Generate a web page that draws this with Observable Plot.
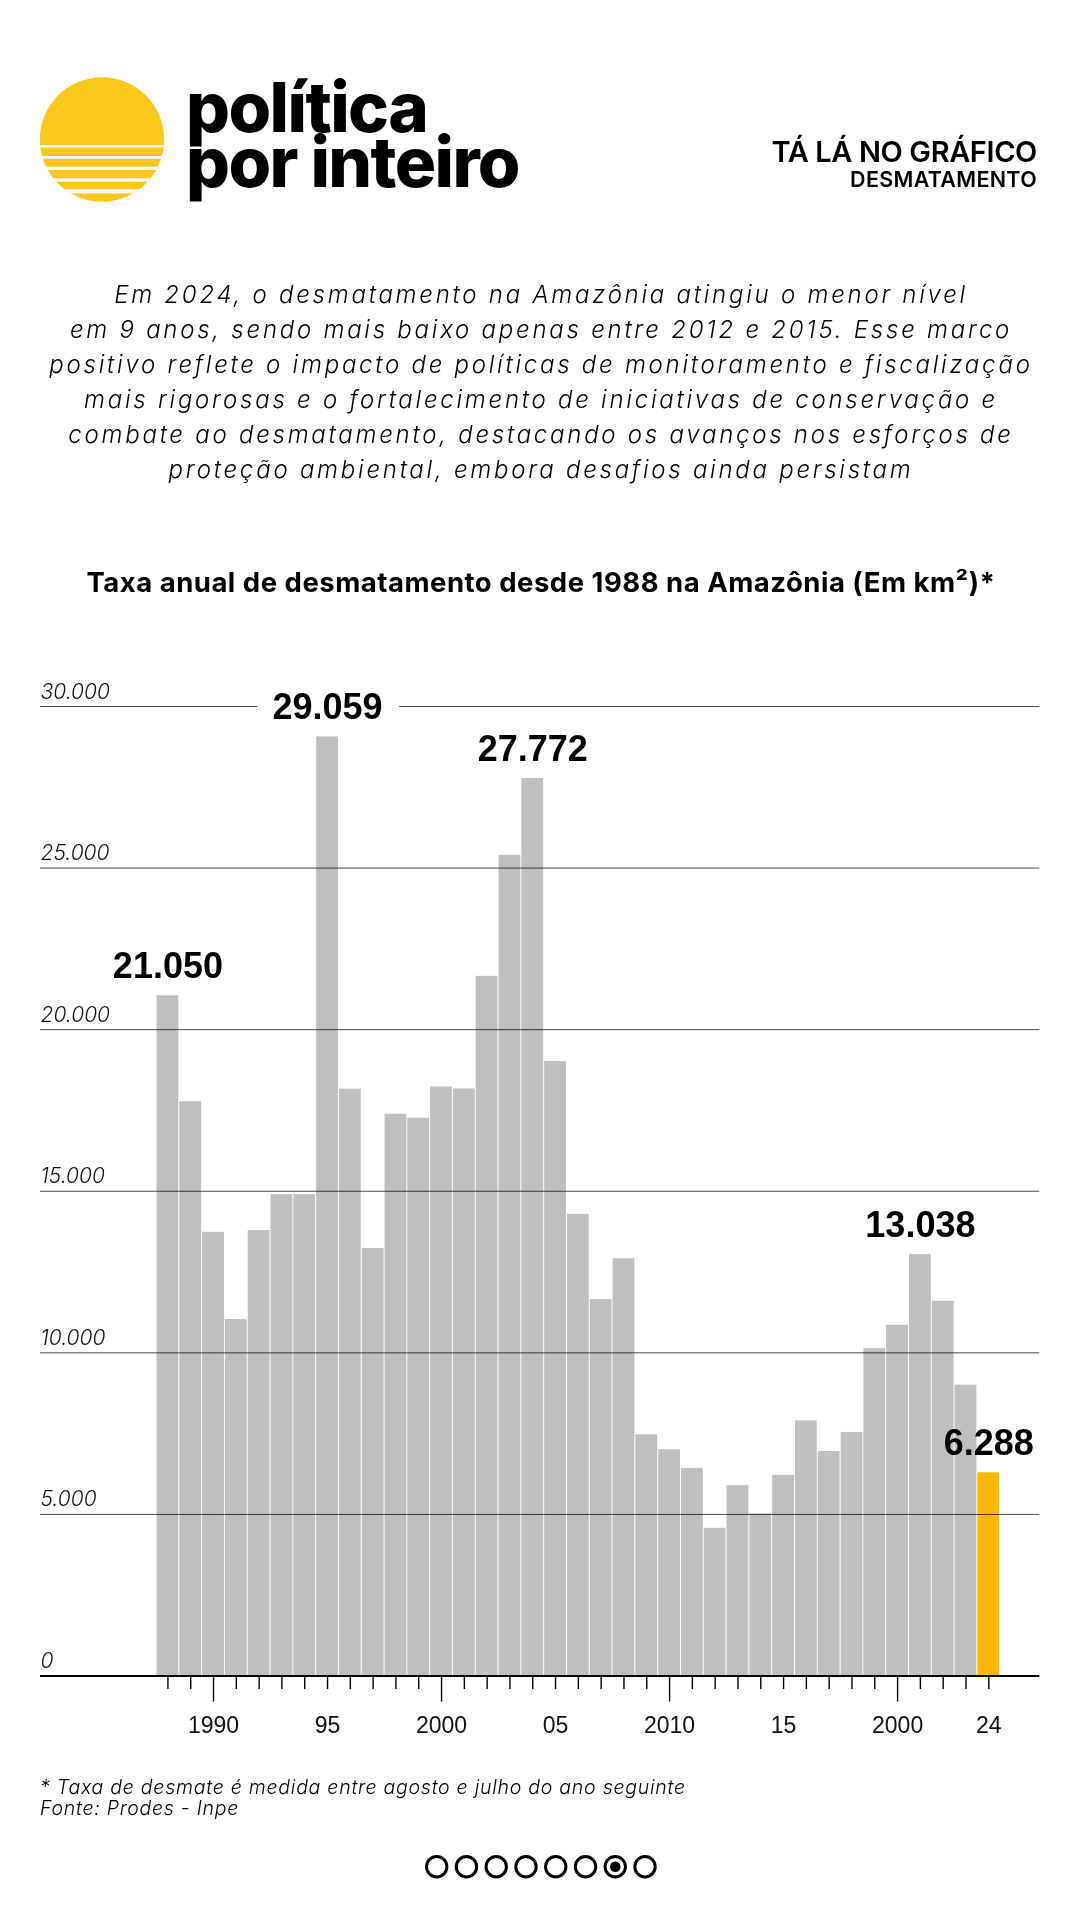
<!DOCTYPE html>
<html>
<head>
<meta charset="utf-8">
<script src="https://cdn.jsdelivr.net/npm/d3@7"></script>
<script src="https://cdn.jsdelivr.net/npm/@observablehq/plot@0.6"></script>
<style>
  html, body { margin: 0; padding: 0; background: #fff; }
  #page { position: relative; width: 1080px; height: 1920px; overflow: hidden; background: #fff; }
  #deco { position: absolute; left: 0; top: 0; }
  #chart { position: absolute; left: 0; top: 640px; }
</style>
</head>
<body>
<div id="page">
  <svg id="deco" width="1080" height="1920"></svg>
  <div id="chart"></div>
</div>
<script>
// ---------------- DATA ----------------
const years = [1988, 1989, 1990, 1991, 1992, 1993, 1994, 1995, 1996, 1997, 1998, 1999,
               2000, 2001, 2002, 2003, 2004, 2005, 2006, 2007, 2008, 2009, 2010, 2011,
               2012, 2013, 2014, 2015, 2016, 2017, 2018, 2019, 2020, 2021, 2022, 2023, 2024];
const values = [21050, 17770, 13730, 11030, 13786, 14896, 14896, 29059, 18161, 13227, 17383, 17259,
                18226, 18165, 21650, 25396, 27772, 19014, 14286, 11651, 12911, 7464, 7000, 6418,
                4571, 5891, 5012, 6207, 7893, 6947, 7536, 10129, 10851, 13038, 11594, 9001, 6288];
const highlightYear = 2024;
const labeledYears = [1988, 1995, 2004, 2021, 2024];
const haloYears = [1995];
const yTicks = [0, 5000, 10000, 15000, 20000, 25000, 30000];
const minorTickYears = [1988, 1989, 1991, 1992, 1993, 1994, 1995, 1996, 1997, 1998, 1999,
                        2001, 2002, 2003, 2004, 2005, 2006, 2007, 2008, 2009, 2011, 2012,
                        2013, 2014, 2015, 2016, 2017, 2018, 2019, 2021, 2022, 2023, 2024];
const majorTickYears = [1990, 2000, 2010, 2020];
const xLabelYears = [1990, 1995, 2000, 2005, 2010, 2015, 2020, 2024];
const xLabelText  = ["1990", "95", "2000", "05", "2010", "15", "2000", "24"];

const brandLines = ["política", "por inteiro"];
const headerTitle = "TÁ LÁ NO GRÁFICO";
const headerSub = "DESMATAMENTO";
const introLines = [
  "Em 2024, o desmatamento na Amazônia atingiu o menor nível",
  "em 9 anos, sendo mais baixo apenas entre 2012 e 2015. Esse marco",
  "positivo reflete o impacto de políticas de monitoramento e fiscalização",
  "mais rigorosas e o fortalecimento de iniciativas de conservação e",
  "combate ao desmatamento, destacando os avanços nos esforços de",
  "proteção ambiental, embora desafios ainda persistam"
];
const chartTitle = "Taxa anual de desmatamento desde 1988 na Amazônia (Em km²)*";
const footLines = ["* Taxa de desmate é medida entre agosto e julho do ano seguinte", "Fonte: Prodes - Inpe"];
const pageCount = 8, currentPage = 7;

// -------------- helpers --------------
const GRAY = "#bfbfbf", YELLOW = "#f9b800", SUN = "#fdc71c";
const locale = d3.formatLocale({decimal: ",", thousands: ".", grouping: [3], currency: ["R$", ""]});
const fmt = locale.format(",d");
const data = years.map((year, i) => ({year, value: values[i]}));
const labels = data.filter(d => labeledYears.includes(d.year));
const halos = data.filter(d => haloYears.includes(d.year));

// -------------- decoration --------------
const deco = d3.select("#deco");
const defs = deco.append("defs");
defs.append("clipPath").attr("id", "sun").append("circle")
  .attr("cx", 102).attr("cy", 139.5).attr("r", 62.2);
const sun = deco.append("g").attr("clip-path", "url(#sun)");
sun.append("rect").attr("x", 36).attr("y", 74).attr("width", 134).attr("height", 134).attr("fill", SUN);
[[145, 147.6], [155.9, 158.8], [166.7, 170], [178.3, 181.7], [189.3, 193.4]].forEach(([a, b]) =>
  sun.append("rect").attr("x", 36).attr("y", a).attr("width", 134).attr("height", b - a).attr("fill", "#fff"));

function txt(s, x, y, o) {
  const t = deco.append("text").attr("x", x).attr("y", y).text(s)
    .attr("font-family", o.family || "Inter")
    .attr("font-size", o.size).attr("font-weight", o.weight || 400)
    .attr("font-style", o.style || "normal")
    .attr("text-anchor", o.anchor || "start")
    .attr("fill", o.fill || "#000");
  if (o.ls != null) t.style("letter-spacing", o.ls + "px");
  return t;
}
// brand: one text element with two lines
const brand = deco.append("text")
  .attr("font-family", "Inter").attr("font-size", 69).attr("font-weight", 800)
  .attr("fill", "#000").style("letter-spacing", "-1.6px");
brandLines.forEach((s, i) => brand.append("tspan").attr("x", 186).attr("y", 131.7 + i * 55.3).text(s));

txt(headerTitle, 1037, 161.7, {size: 29, weight: 600, anchor: "end", ls: -0.4});
txt(headerSub, 1037, 186.7, {size: 21.5, weight: 600, anchor: "end", ls: 0.3});

introLines.forEach((s, i) => txt(s, 541, 303.3 + i * 35, {size: 24, weight: 300, style: "italic", anchor: "middle", ls: 2.75}));
txt(chartTitle, 541, 591.7, {size: 27.5, weight: 700, anchor: "middle", ls: 0.5});
footLines.forEach((s, i) => txt(s, 40, 1794.3 + i * 21, {size: 19.5, weight: 300, style: "italic", ls: 0.75}));

for (let i = 0; i < pageCount; i++) {
  const cx = 436.7 + i * 29.76;
  deco.append("circle").attr("cx", cx).attr("cy", 1866.7).attr("r", 10.2)
    .attr("fill", "none").attr("stroke", "#000").attr("stroke-width", 3);
  if (i + 1 === currentPage)
    deco.append("circle").attr("cx", cx).attr("cy", 1866.7).attr("r", 5.3).attr("fill", "#000");
}

// -------------- chart --------------
const chart = Plot.plot({
  width: 1080,
  height: 1120,
  marginLeft: 40,
  marginRight: 40.7,
  marginTop: 66,
  marginBottom: 84.5,
  x: {type: "linear", domain: [1982.412, 2026.237], axis: null},
  y: {type: "linear", domain: [0, 30000], axis: null},
  style: {background: "transparent", overflow: "visible"},
  marks: [
    Plot.ruleY(yTicks.filter(d => d > 0), {stroke: "#4a4a4a", strokeWidth: 1}),
    Plot.text(halos, {
      x: "year", y: "value", text: d => fmt(d.value),
      lineAnchor: "bottom", dy: -19, fontSize: 36, fontWeight: "bold", fontFamily: "Liberation Sans",
      fill: "white", stroke: "white", strokeWidth: 36, strokeLinejoin: "round"
    }),
    Plot.rectY(data, {
      x1: d => d.year - 0.5, x2: d => d.year + 0.5, y: "value",
      fill: d => d.year === highlightYear ? YELLOW : GRAY,
      insetLeft: 0.5, insetRight: 0.5, mixBlendMode: "multiply"
    }),
    Plot.ruleY([0], {stroke: "#000", strokeWidth: 2}),
    Plot.axisX(minorTickYears, {tickSize: 13.5, strokeWidth: 1.4, tickFormat: () => "", label: null}),
    Plot.axisX(majorTickYears, {tickSize: 26, strokeWidth: 1.4, tickFormat: () => "", label: null}),
    Plot.axisX(xLabelYears, {
      tickSize: 0, tickPadding: 41, label: null,
      tickFormat: d => xLabelText[xLabelYears.indexOf(d)],
      fontSize: 23, fontFamily: "Liberation Sans", fill: "#111"
    }),
    Plot.text(yTicks, {
      y: d => d, frameAnchor: "left", textAnchor: "start", lineAnchor: "bottom", dy: -8,
      text: d => fmt(d), fontSize: 21, fontStyle: "italic", fontWeight: 300, fontFamily: "Inter",
      fill: "#111", style: "letter-spacing:0.8px"
    }),
    Plot.text(labels, {
      x: "year", y: "value", text: d => fmt(d.value),
      lineAnchor: "bottom", dy: -18, fontSize: 36, fontWeight: "bold", fontFamily: "Liberation Sans",
      fill: "#000"
    })
  ]
});
document.getElementById("chart").appendChild(chart);
</script>
</body>
</html>
